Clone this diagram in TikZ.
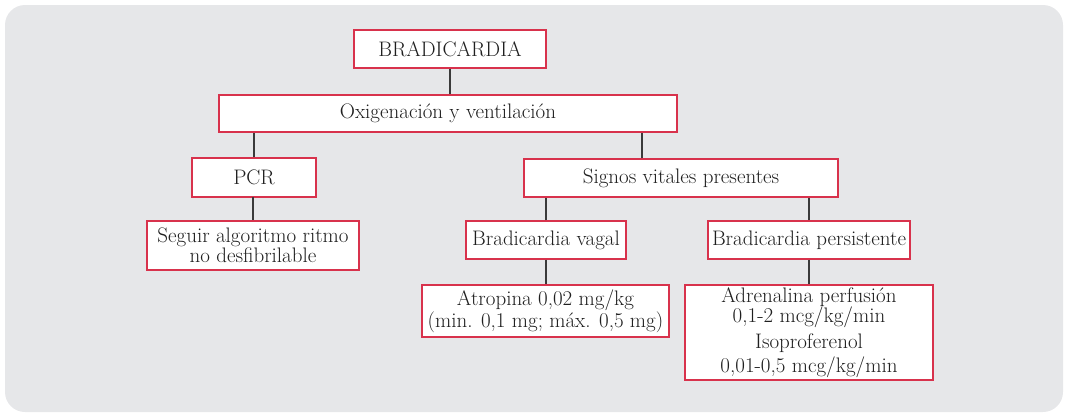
\documentclass[tikz,border=0pt]{standalone}
\usepackage{fontspec}
\definecolor{boxred}{HTML}{D8324C}
\definecolor{bggray}{HTML}{E6E7E9}
\definecolor{linegray}{HTML}{3A3A3A}
\newcommand{\boxfont}{\fontsize{21}{19}\selectfont}
\begin{document}
\begin{tikzpicture}[x=1pt,y=-1pt,
  box/.style={draw=boxred, fill=white, line width=1.3pt, inner sep=0pt, align=center,
    text=black!88, font=\boxfont},
  conn/.style={draw=linegray, line width=1.2pt}]
\useasboundingbox (0,0) rectangle (1065,413);
\fill[bggray, rounded corners=20pt] (5,5) rectangle (1063,412);
\node[box, minimum width=192pt, minimum height=38pt] (brad) at (450,49) {BRADICARDIA};
\node[box, minimum width=458pt, minimum height=37pt] (oxig) at (448,113.5) {Oxigenación y ventilación};
\node[box, minimum width=124pt, minimum height=39pt] (pcr) at (254,177.5) {PCR};
\node[box, minimum width=314pt, minimum height=38pt] (signos) at (681,178) {Signos vitales presentes};
\node[box, minimum width=212pt, minimum height=49pt] (seguir) at (253,245.5) {Seguir algoritmo ritmo\\no desfibrilable};
\node[box, minimum width=160pt, minimum height=38pt] (vagal) at (546,240) {Bradicardia vagal};
\node[box, minimum width=202pt, minimum height=38pt] (persist) at (809,240) {Bradicardia persistente};
\node[box, minimum width=247pt, minimum height=52pt] (atrop) at (545.5,311) {Atropina 0,02 mg/kg\\(min. 0,1 mg; máx. 0,5 mg)};
\node[box, minimum width=248pt, minimum height=95pt] (adren) at (809,332.5) {Adrenalina perfusión\\0,1-2 mcg/kg/min\\[5pt]Isoproferenol\\[3pt]0,01-0,5 mcg/kg/min};
\draw[conn] (brad.south) -- (brad.south |- oxig.north);
\draw[conn] (pcr.north) -- (pcr.north |- oxig.south);
\draw[conn] ([xshift=-39pt]signos.north) -- ([xshift=-39pt]signos.north |- oxig.south);
\draw[conn] (pcr.south) -- (pcr.south -| seguir.north) -- (seguir.north);
\draw[conn] (vagal.north) -- (vagal.north |- signos.south);
\draw[conn] (persist.north) -- (persist.north |- signos.south);
\draw[conn] (vagal.south) -- (atrop.north -| vagal.south);
\draw[conn] (persist.south) -- (adren.north);
\end{tikzpicture}
\end{document}
